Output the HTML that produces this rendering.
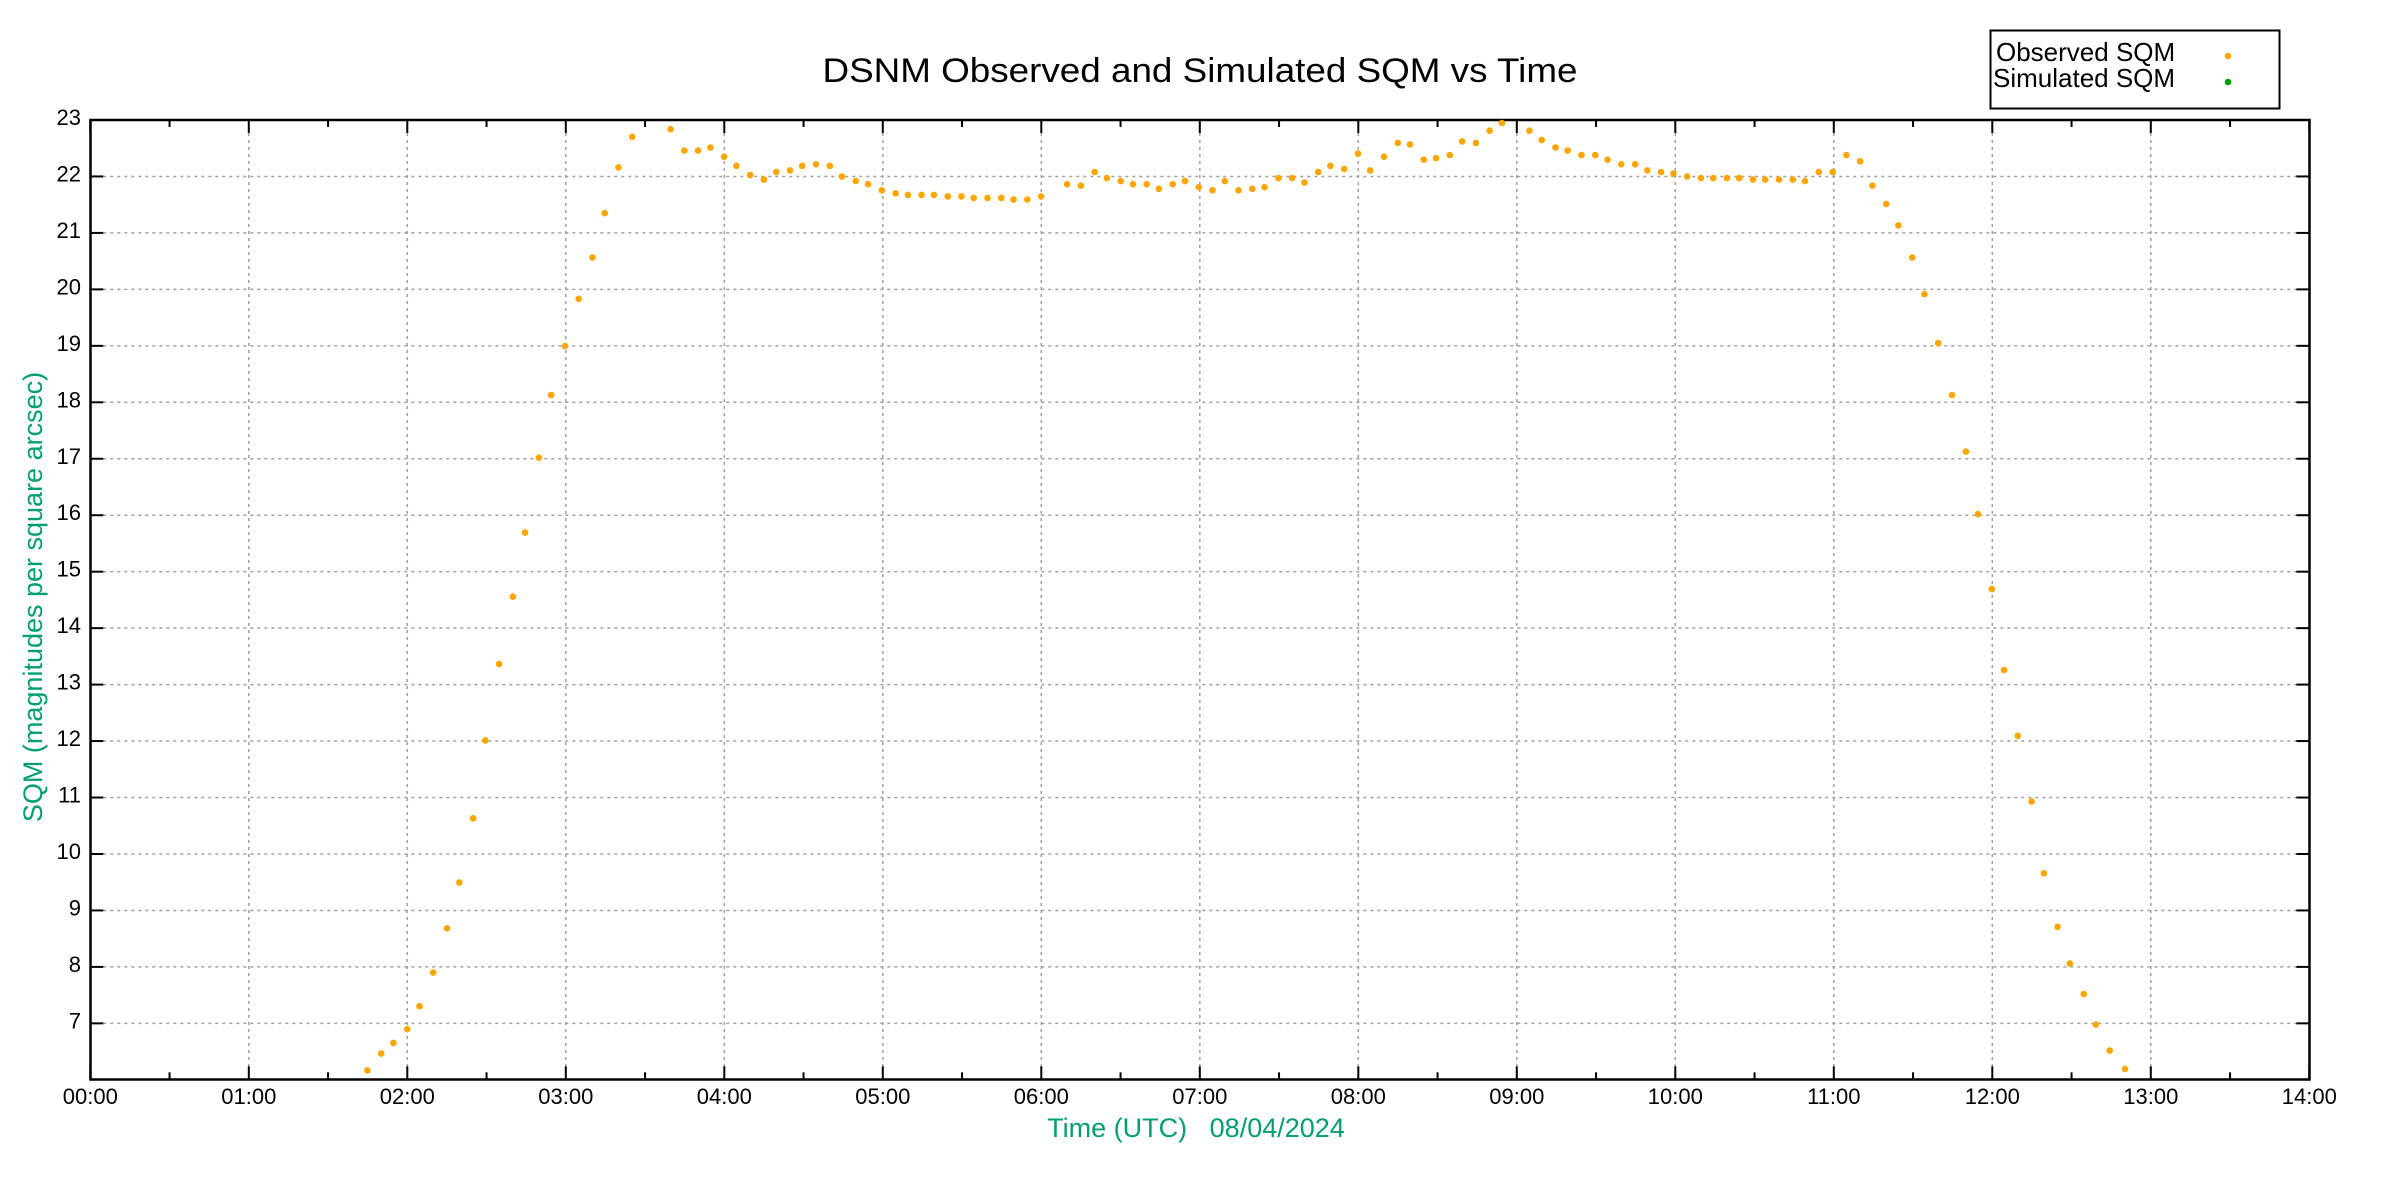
<!DOCTYPE html>
<html><head><meta charset="utf-8"><style>body{margin:0;background:#fff}svg{display:block}</style></head>
<body>
<svg id="s" width="2400" height="1200" xmlns="http://www.w3.org/2000/svg" font-family="Liberation Sans, sans-serif">
<rect width="2400" height="1200" fill="#fff"/>
<g id="grid" stroke="#a0a0a0" stroke-width="1.5" stroke-dasharray="3,4"></g>
<g id="ticks" stroke="#000" stroke-width="2"></g>
<rect x="90.5" y="120" width="2219" height="959.5" fill="none" stroke="#000" stroke-width="2.5"/>
<g id="labels" font-size="22" fill="#000"></g>
<g id="pts" fill="#ffa500"></g>
<text x="1200" y="82" font-size="34" text-anchor="middle" textLength="755" lengthAdjust="spacingAndGlyphs">DSNM Observed and Simulated SQM vs Time</text>
<text x="0" y="0" font-size="27" fill="#009e73" text-anchor="middle" transform="translate(42,597) rotate(-90)">SQM (magnitudes per square arcsec)</text>
<text x="1196" y="1137" font-size="27" fill="#009e73" text-anchor="middle" xml:space="preserve">Time (UTC)   08/04/2024</text>
<rect x="1990.5" y="30.5" width="289" height="78" fill="#fff" stroke="#000" stroke-width="2"/>
<text x="1996" y="61" font-size="26">Observed SQM</text>
<text x="1993" y="87" font-size="26">Simulated SQM</text>
<circle cx="2228" cy="56" r="3.3" fill="#ffa500"/>
<circle cx="2228" cy="82" r="3.3" fill="#00a000"/>
</svg>
<script>
const L=90.3,R=2309.3,T=120,B=1079.3;
const X=h=>L+(R-L)*h/14, Y=v=>T+(23-v)*56.46;
const ns="http://www.w3.org/2000/svg";
function el(p,t,a,txt){const e=document.createElementNS(ns,t);for(const k in a)e.setAttribute(k,a[k]);if(txt!=null)e.textContent=txt;document.getElementById(p).appendChild(e);}
for(let v=7;v<=22;v++){const y=Y(v);el('grid','line',{x1:L+13,x2:R-13,y1:y,y2:y});}
for(let h=1;h<=13;h++){const x=X(h);el('grid','line',{x1:x,x2:x,y1:T+13,y2:B-13});}
for(let v=7;v<=23;v++){const y=Y(v);el('ticks','line',{x1:L,x2:L+13,y1:y,y2:y});el('ticks','line',{x1:R-13,x2:R,y1:y,y2:y});el('labels','text',{x:81,y:y+5,'text-anchor':'end'},String(v));}
for(let i=0;i<=28;i++){const h=i/2,x=X(h),len=i%2?7:13;el('ticks','line',{x1:x,x2:x,y1:B,y2:B-len});el('ticks','line',{x1:x,x2:x,y1:T,y2:T+len});
 if(i%2==0){el('labels','text',{x:x,y:1104,'text-anchor':'middle'},String(h).padStart(2,'0')+':00');}}
const d=[[240,699],[249,688],[257,681],[266,672],[274,657],[283,635],[292,606],[300,576],[309,534],[317,483],[326,433],[335,389],[343,347],[352,298],[360,257],[369,225],[378,194],[387,167],[395,138],[404,108],[413,88],[438,83],[447,97],[456,97],[464,95],[473,101],[481,107],[490,113],[499,116],[507,111],[516,110],[524,107],[533,106],[542,107],[550,114],[559,117],[567,119],[576,123],[585,125],[593,126],[602,126],[610,126],[619,127],[628,127],[636,128],[645,128],[654,128],[662,129],[671,129],[680,127],[697,119],[706,120],[715,111],[723,115],[732,117],[740,119],[749,119],[757,122],[766,119],[774,117],[783,121],[792,123],[800,117],[809,123],[818,122],[826,121],[835,115],[844,115],[852,118],[861,111],[869,107],[878,109],[887,99],[895,110],[904,101],[913,92],[921,93],[930,103],[938,102],[947,100],[955,91],[964,92],[973,84],[981,79],[999,84],[1007,90],[1016,95],[1024,97],[1033,100],[1042,100],[1050,103],[1059,106],[1068,106],[1076,110],[1085,111],[1093,112],[1102,114],[1111,115],[1119,115],[1128,115],[1136,115],[1145,116],[1153,116],[1162,116],[1171,116],[1179,117],[1188,111],[1197,111],[1206,100],[1215,104],[1223,120],[1232,132],[1240,146],[1249,167],[1257,191],[1266,223],[1275,257],[1284,294],[1292,335],[1301,384],[1309,437],[1318,480],[1327,523],[1335,570],[1344,605],[1352,629],[1361,649],[1369,669],[1378,686],[1388,698]];
for(const [x,y] of d){el('pts','circle',{cx:(L+(x-59)*1.531).toFixed(1),cy:(T+(y-77)*1.528).toFixed(1),r:3.3});}
</script>
</body></html>
